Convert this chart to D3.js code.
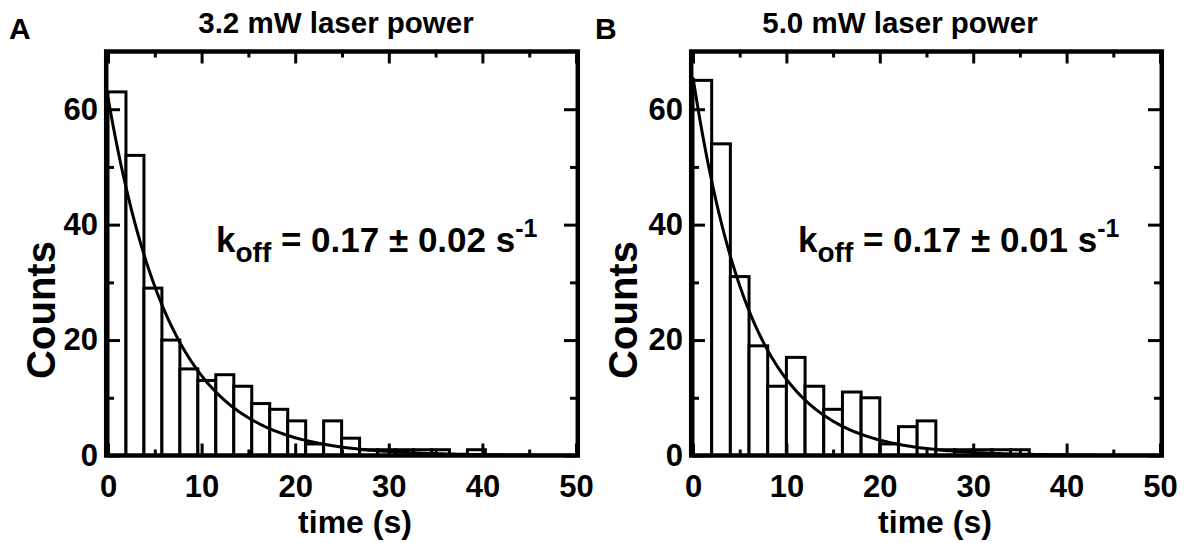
<!DOCTYPE html>
<html>
<head>
<meta charset="utf-8">
<script src="https://cdn.jsdelivr.net/npm/d3@7"></script>
<style>
  body { margin: 0; background: #fff; }
  svg text { font-family: "Liberation Sans", Arial, sans-serif; font-weight: bold; fill: #000; }
</style>
</head>
<body>
<div id="graphicContainer"></div>
<script>
// histogram counts per bin
var binWidthA = 1.92
var countsA = [63, 52, 29, 20, 15, 13, 14, 12, 9, 8, 6, 2, 6, 3, 1, 1, 1, 1, 1, 0, 1, 0, 0, 0, 0, 0]
var binWidthB = 2.0
var countsB = [65, 54, 31, 19, 12, 17, 12, 8, 11, 10, 2, 5, 6, 1, 1, 1, 1, 1, 0, 0, 0, 0, 0, 0, 0]

// single exponential fits drawn over the bars
var fitA = { amp: 62, rate: 0.15 }
var fitB = { amp: 65.5, rate: 0.16 }

var panelLetters = ["A", "B"]
var titles = ["3.2 mW laser power", "5.0 mW laser power"]
var koffText = ["0.17 ± 0.02", "0.17 ± 0.01"]

var xMajor = [0, 10, 20, 30, 40, 50]
var xMinor = [5, 15, 25, 35, 45]
var yMajor = [0, 20, 40, 60]
var yMinor = [10, 30, 50]

var width = 1185
var height = 543
var plotTop = 51.5
var plotBottom = 455.5

var svg = d3.select("#graphicContainer").append("svg")
  .attr("width", width)
  .attr("height", height)

var panels = [
  { letter: panelLetters[0], title: titles[0], koff: koffText[0], counts: countsA, bw: binWidthA, fit: fitA,
    left: 108, right: 576, letterX: 9, titleX: 336, koffX: 216, countsX: 55, timeX: 355 },
  { letter: panelLetters[1], title: titles[1], koff: koffText[1], counts: countsB, bw: binWidthB, fit: fitB,
    left: 693, right: 1160, letterX: 595, titleX: 900, koffX: 798, countsX: 637, timeX: 935 }
]

panels.forEach(function (p) {
  var x = d3.scaleLinear().domain([0, 50]).range([p.left, p.right])
  var y = d3.scaleLinear().domain([0, 70]).range([plotBottom, plotTop])

  var g = svg.append("g")

  var bins = p.counts.map(function (c, i) {
    return { x0: i * p.bw, x1: (i + 1) * p.bw, n: c }
  }).filter(function (d) { return d.n > 0 })

  g.selectAll(".bar")
    .data(bins)
    .enter().append("rect")
    .attr("class", "bar")
    .attr("x", function (d) { return x(d.x0) })
    .attr("width", function (d) { return x(d.x1) - x(d.x0) })
    .attr("y", function (d) { return y(d.n) })
    .attr("height", function (d) { return y(0) - y(d.n) })
    .attr("fill", "#fff")
    .attr("stroke", "#000")
    .attr("stroke-width", 3)

  // fit curve
  var ts = d3.range(0, 50.01, 0.25)
  var line = d3.line()
    .x(function (t) { return x(t) })
    .y(function (t) { return y(p.fit.amp * Math.exp(-p.fit.rate * t)) })
  g.append("path")
    .datum(ts)
    .attr("d", line)
    .attr("fill", "none")
    .attr("stroke", "#000")
    .attr("stroke-width", 3)

  // axes, ticks pointing inwards on all four sides
  function styleAxis(sel) {
    sel.select(".domain").remove()
    sel.selectAll(".tick line").attr("stroke", "#000").attr("stroke-width", 3)
    sel.selectAll("text").style("font-size", "31px").attr("fill", "#000")
  }

  g.append("g").attr("transform", "translate(0," + plotBottom + ")")
    .call(d3.axisBottom(x).tickValues(xMajor).tickSize(-12).tickPadding(19))
    .call(styleAxis)
  g.append("g").attr("transform", "translate(0," + plotBottom + ")")
    .call(d3.axisBottom(x).tickValues(xMinor).tickSize(-6).tickFormat(""))
    .call(styleAxis)
  g.append("g").attr("transform", "translate(0," + plotTop + ")")
    .call(d3.axisTop(x).tickValues(xMajor).tickSize(-12).tickFormat(""))
    .call(styleAxis)
  g.append("g").attr("transform", "translate(0," + plotTop + ")")
    .call(d3.axisTop(x).tickValues(xMinor).tickSize(-6).tickFormat(""))
    .call(styleAxis)
  g.append("g").attr("transform", "translate(" + p.left + ",0)")
    .call(d3.axisLeft(y).tickValues(yMajor).tickSize(-12).tickPadding(10))
    .call(styleAxis)
  g.append("g").attr("transform", "translate(" + p.left + ",0)")
    .call(d3.axisLeft(y).tickValues(yMinor).tickSize(-6).tickFormat(""))
    .call(styleAxis)
  g.append("g").attr("transform", "translate(" + p.right + ",0)")
    .call(d3.axisRight(y).tickValues(yMajor).tickSize(-12).tickFormat(""))
    .call(styleAxis)
  g.append("g").attr("transform", "translate(" + p.right + ",0)")
    .call(d3.axisRight(y).tickValues(yMinor).tickSize(-6).tickFormat(""))
    .call(styleAxis)

  // frame
  g.append("rect")
    .attr("x", p.left - 1.8)
    .attr("y", plotTop)
    .attr("width", p.right - p.left + 3.6)
    .attr("height", plotBottom - plotTop)
    .attr("fill", "none")
    .attr("stroke", "#000")
    .attr("stroke-width", 4.5)

  // texts
  g.append("text").attr("x", p.letterX).attr("y", 39)
    .style("font-size", "30px").text(p.letter)
  g.append("text").attr("x", p.titleX).attr("y", 33)
    .attr("text-anchor", "middle").style("font-size", "29.5px").text(p.title)
  g.append("text").attr("x", p.timeX).attr("y", 533)
    .attr("text-anchor", "middle").style("font-size", "32px").text("time (s)")
  g.append("text")
    .attr("transform", "translate(" + p.countsX + "," + 310 + ") rotate(-90)")
    .attr("text-anchor", "middle").style("font-size", "40px").text("Counts")

  var k = g.append("text").attr("x", p.koffX).attr("y", 252).style("font-size", "35px")
  k.append("tspan").text("k")
  k.append("tspan").attr("dy", 10).style("font-size", "28px").text("off")
  k.append("tspan").attr("dy", -10).text(" = " + p.koff + " s")
  k.append("tspan").attr("dy", -15).style("font-size", "25px").text("-1")
})
</script>
</body>
</html>
